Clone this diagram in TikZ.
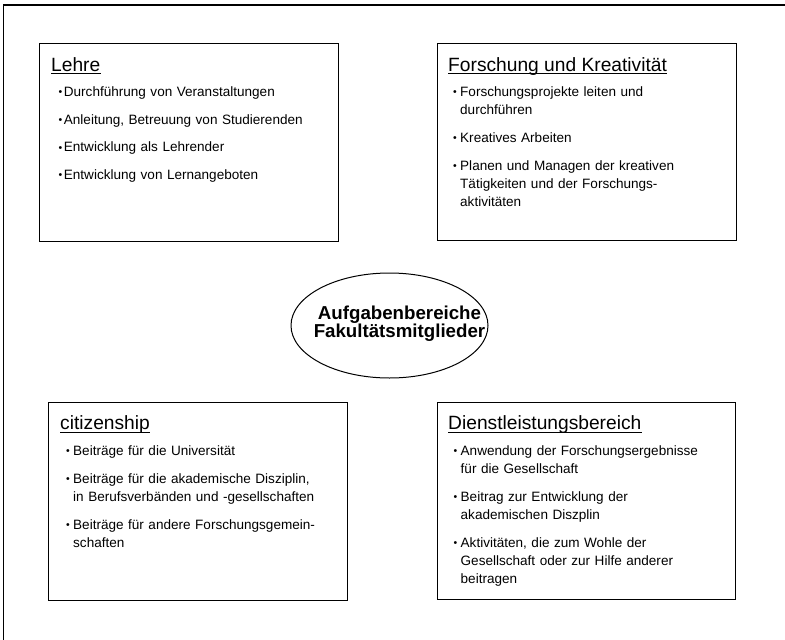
\documentclass[tikz,border=0pt]{standalone}
\usepackage{fontspec}
\setmainfont{Liberation Sans}
\usetikzlibrary{shapes.geometric}
\newlength\bulw
\newcommand\smbul{\raisebox{0.6pt}{\fontsize{10.5}{10.5}\selectfont\textbullet}}
\newcommand\itm[1]{\hangindent=\bulw\hangafter=1\noindent\makebox[\bulw][l]{\smbul}#1\par}
\begin{document}
\begin{tikzpicture}[x=1pt,y=-1pt,
  frame/.style={line width=1.3pt},
  box/.style={draw, line width=1.3pt, rectangle, anchor=north west, inner sep=0pt},
  ttl/.style={inner sep=0pt, anchor=base west, font=\fontsize{19.2}{23}\selectfont},
  uline/.style={line width=1.1pt},
  body/.style={inner sep=0pt, anchor=base west, text width=290pt, align=left,
    font=\fontsize{13.55}{18.3}\selectfont},
  core/.style={draw, ellipse, line width=1pt, inner sep=0pt},
  coretxt/.style={inner sep=0pt, anchor=base, text width=230pt, align=center,
    font=\bfseries\fontsize{18.7}{18.4}\selectfont}]
\useasboundingbox (0,0) rectangle (785,640);
\draw[frame] (3.5,640) -- (3.5,5) -- (785,5);

% Lehre
\node[box, minimum width=299pt, minimum height=198pt] (lehre) at (39,43) {};
\node[ttl] (t1) at (51,71) {Lehre};
\draw[uline] ([yshift=-2.7pt]t1.base west) -- ([yshift=-2.7pt]t1.base east);
\node[body] (b1) at (58.3,96.5) {\setlength\parskip{9.3pt}\setlength\bulw{5.4pt}%
\itm{Durchführung von Veranstaltungen}%
\itm{Anleitung, Betreuung von Studierenden}%
\itm{Entwicklung als Lehrender}%
\itm{Entwicklung von Lernangeboten}};

% Forschung
\node[box, minimum width=299pt, minimum height=197pt] (forsch) at (437,43) {};
\node[ttl] (t2) at (448,71) {Forschung und Kreativität};
\draw[uline] ([yshift=-2.7pt]t2.base west) -- ([yshift=-2.7pt]t2.base east);
\node[body] (b2) at (453,96.5) {\setlength\parskip{9.3pt}\setlength\bulw{7pt}%
\itm{Forschungsprojekte leiten und\newline durchführen}%
\itm{Kreatives Arbeiten}%
\itm{Planen und Managen der kreativen\newline Tätigkeiten und der Forschungs-\newline aktivitäten}};

% citizenship
\node[box, minimum width=299pt, minimum height=198pt] (citiz) at (48,402) {};
\node[ttl] (t3) at (60,429.5) {citizenship};
\draw[uline] ([yshift=-2.7pt]t3.base west) -- ([yshift=-2.7pt]t3.base east);
\node[body] (b3) at (66,455.5) {\setlength\parskip{9.3pt}\setlength\bulw{7pt}%
\itm{Beiträge für die Universität}%
\itm{Beiträge für die akademische Disziplin,\newline in Berufsverbänden und -gesellschaften}%
\itm{Beiträge für andere Forschungsgemein-\newline schaften}};

% Dienstleistungsbereich
\node[box, minimum width=298pt, minimum height=197pt] (dienst) at (437,402) {};
\node[ttl] (t4) at (448,429.5) {Dienstleistungsbereich};
\draw[uline] ([yshift=-2.7pt]t4.base west) -- ([yshift=-2.7pt]t4.base east);
\node[body] (b4) at (453.5,455.5) {\setlength\parskip{9.3pt}\setlength\bulw{7pt}%
\itm{Anwendung der Forschungsergebnisse\newline für die Gesellschaft}%
\itm{Beitrag zur Entwicklung der\newline akademischen Diszplin}%
\itm{Aktivitäten, die zum Wohle der\newline Gesellschaft oder zur Hilfe anderer\newline beitragen}};

% centre
\node[core, minimum width=197pt, minimum height=105pt] (mid) at (389.5,325.5) {};
\node[coretxt] (midtxt) at (399.5,319.3) {Aufgabenbereiche\\Fakultätsmitglieder};
\end{tikzpicture}
\end{document}
